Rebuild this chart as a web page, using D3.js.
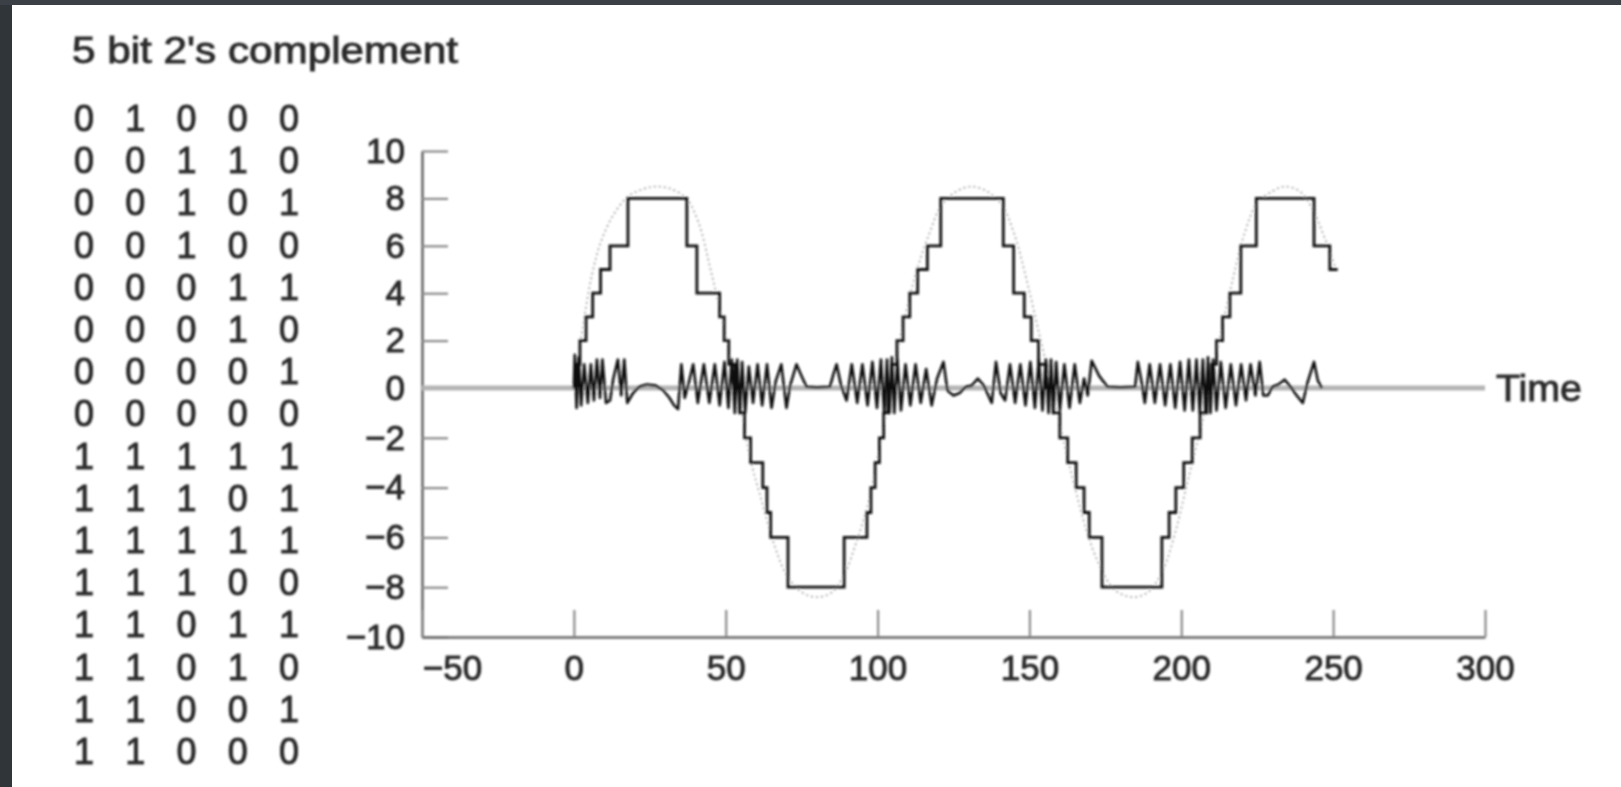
<!DOCTYPE html>
<html>
<head>
<meta charset="utf-8">
<script src="https://cdn.jsdelivr.net/npm/d3@7"></script>
<style>
  body { margin: 0; background: #30353a; overflow: hidden; }
  #chart { position: absolute; left: 0; top: 0; }
  text {
    font-family: "Liberation Sans", Arial, sans-serif;
    fill: #2a2a2a;
    stroke: #2a2a2a;
    stroke-width: 0.9px;
  }
</style>
</head>
<body>
<div id="chart"></div>
<script>
const titleText = "5 bit 2's complement";
const bitRows = [
  "01000", "00110", "00101", "00100", "00011", "00010", "00001", "00000",
  "11111", "11101", "11111", "11100", "11011", "11010", "11001", "11000",
];
const xTicks = [-50, 0, 50, 100, 150, 200, 250, 300];
const yTicks = [-10, -8, -6, -4, -2, 0, 2, 4, 6, 8, 10];

// quantized signal, [time, level] at the start of each step
const stepPts = [
  [0, 0], [0.6, 1], [2, 2], [4, 3], [6.2, 4], [8.8, 5], [11.9, 6], [17.8, 8],
  [37.2, 6], [40.5, 4], [48, 3], [49.5, 2], [51, 1], [53, 0], [54.7, -1],
  [56.2, -2], [58.2, -3], [62.2, -4], [63.6, -5], [64.8, -6], [70.5, -8],
  [89, -6], [96.5, -5], [97.8, -4], [99.2, -3], [100.6, -2], [102, -1],
  [103.4, 0], [104.7, 1], [106.4, 2], [108.4, 3], [110.6, 4], [113.2, 5],
  [116.4, 6], [120.8, 8],
  [141.4, 6], [144.8, 4], [148.3, 3], [150.6, 2], [153, 1], [155.5, 0],
  [157.8, -1], [160, -2], [162.6, -3], [165.4, -4], [168, -5], [169.7, -6],
  [173.9, -8],
  [193.6, -6], [196, -5], [198.2, -4], [200.8, -3], [203.6, -2], [206.2, -1],
  [208.4, 0], [210, 1], [211.6, 2], [213.6, 3], [216, 4], [219.6, 6],
  [224.7, 8],
  [243.7, 6], [248.9, 5], [251.5, 5],
];

// faint dotted original signal
const analogPts = [
  [0, 0], [3, 2.6], [6, 4.8], [9, 6.2], [13, 7.3], [18, 8.1], [23, 8.4],
  [27, 8.5], [32, 8.4], [37, 8.0], [41, 7], [45, 5], [49, 2.8], [52, 1],
  [55, -0.8], [58, -2.8], [62, -4.6], [66, -6.3], [70, -7.5], [75, -8.2],
  [80, -8.4], [85, -8.2], [89, -7.5], [93, -6.2], [97, -4.6], [100, -2.8],
  [103, -0.9], [106, 1.2], [109, 3], [113, 5], [117, 6.5], [121, 7.7],
  [126, 8.3], [131, 8.5], [136, 8.3], [141, 7.7], [145, 6.5], [149, 4.6],
  [153, 2.4], [157, 0.2], [161, -2], [165, -4], [169, -5.8], [173, -7.1],
  [178, -8.1], [184, -8.4], [189, -8.2], [194, -7.3], [198, -5.8],
  [202, -3.8], [206, -1.8], [209.5, 0], [213, 2.3], [217, 4.6], [221, 6.6],
  [225, 7.8], [230, 8.3], [234, 8.5], [239, 8.3], [243, 7.6], [247, 6.4],
  [251, 5],
];

// quantization error around zero
const errorPts = [
  [0, 0], [0.3, 1.4], [0.9, -0.8], [1.6, 1.3], [2.4, -0.7], [3.4, 1.0],
  [4.6, -0.6], [5.6, 1.0], [6.6, -0.5], [7.6, 1.2], [8.6, -0.4], [9.4, 1.2],
  [10.6, -0.6], [11.9, -0.5], [13, 0.4], [14.5, 1.2], [15.6, -0.3],
  [16.6, 1.2], [17.6, -0.6],
  [19.5, -0.2], [21.5, 0.05], [24, 0.15], [27, 0.1], [29.5, -0.1],
  [31.5, -0.4], [33, -0.7], [34.3, -0.85],
  [35.4, 1.0], [36.5, -0.4], [37.8, 0.2], [39.3, 1.0], [40.8, -0.6],
  [42.8, 1.0], [44.6, -0.6], [46.4, 1.0], [48, -0.7], [49.6, 1.1],
  [50.9, -0.8], [52, 1.2], [53, -1.0], [53.8, 1.2], [54.6, -1.0],
  [55.4, 1.1], [56.4, -1.0], [57.6, 0.9], [59, -0.6], [60.5, 1.0],
  [62, -0.7], [63.6, 1.0], [65.1, -0.8], [66.5, 0.3], [68.3, 1.0],
  [70, -0.8], [71.2, 0.1], [73.3, 1.0], [75, 0.5], [76.6, 0.05],
  [80, 0.03], [84.3, 0.05],
  [85.5, 0.6], [86.5, 1.0], [88, 0.1], [89.8, -0.5], [91.5, 1.0],
  [93.3, -0.6], [95, 1.0], [96.7, -0.7], [98.3, 1.1], [99.8, -0.8],
  [101.1, 1.2], [102.2, -1.0], [103.1, 1.2], [103.9, -1.0], [104.7, 1.3],
  [105.5, -1.0], [106.5, 1.2], [107.7, -0.9], [109.2, 1.0], [110.8, -0.7],
  [112.5, 1.0], [114.2, -0.6], [116, 0.8], [117.8, -0.7], [119.6, 0.4],
  [121.7, 1.1], [123, -0.1],
  [125, -0.3], [127, -0.2], [129, 0.05], [131, 0.1], [133, 0.4], [135, 0.1],
  [137.6, -0.6],
  [139, 1.1], [140.5, -0.2], [142, -0.5], [143.6, 1.0], [145.3, -0.6],
  [147, 1.0], [148.7, -0.7], [150.3, 1.1], [151.8, -0.8], [153.1, 1.2],
  [154.3, -0.9], [155.4, 1.2], [156.3, -1.0], [157.1, 1.2], [157.9, -1.0],
  [158.8, 1.1], [160, -0.9], [161.5, 1.0], [163.2, -0.8], [164.9, 1.0],
  [166.6, -0.6], [168, 0.4], [169.2, -0.3], [170.5, 1.15], [173, 0.5],
  [175.7, 0.05], [180, 0.03], [184.8, 0.05],
  [185.7, 1.1], [187, 0.2], [188, -0.6], [189.6, 1.0], [191.3, -0.6],
  [193, 1.0], [194.7, -0.7], [196.4, 1.0], [198, -0.8], [199.6, 1.1],
  [201.1, -0.9], [202.5, 1.2], [203.8, -0.9], [205, 1.2], [206.1, -1.0],
  [207.1, 1.2], [208, -1.0], [208.8, 1.3], [209.6, -1.0], [210.5, 1.2],
  [211.6, -0.9], [213, 1.1], [214.6, -0.8], [216.3, 1.0], [218, -0.7],
  [219.7, 1.0], [221.3, -0.5], [222.8, 1.0], [224.4, -0.3], [225.8, 1.1],
  [227, -0.3],
  [228.5, -0.3], [230, 0.05], [232, 0.15], [234, 0.35], [236, 0.05],
  [238, -0.3], [240, -0.6], [241.5, 0.2], [243.7, 1.1], [245, 0.3],
  [246.3, 0],
];

class QuantPlot {
  constructor() {
    this.config = {
      parentElement: "#chart",
      width: 1621,
      height: 787,
    };
    this.initVis();
  }

  initVis() {
    const vis = this;

    vis.svg = d3
      .select(vis.config.parentElement)
      .append("svg")
      .attr("width", vis.config.width)
      .attr("height", vis.config.height);

    vis.svg
      .append("defs")
      .append("filter")
      .attr("id", "scan")
      .append("feGaussianBlur")
      .attr("stdDeviation", 0.9);

    vis.svg
      .append("rect")
      .attr("width", vis.config.width)
      .attr("height", 5)
      .attr("fill", "#3a4046");

    vis.svg
      .append("rect")
      .attr("x", 12)
      .attr("y", 5)
      .attr("width", vis.config.width - 12)
      .attr("height", vis.config.height - 5)
      .attr("fill", "#fff");

    vis.g = vis.svg.append("g").attr("filter", "url(#scan)");

    vis.xScale = d3.scaleLinear().domain([-50, 300]).range([422, 1485]);
    vis.yScale = d3.scaleLinear().domain([-10, 0, 10]).range([637, 388, 151]);

    // bit table
    vis.g
      .append("text")
      .attr("x", 72)
      .attr("y", 63)
      .attr("font-size", 36)
      .attr("textLength", 386)
      .attr("lengthAdjust", "spacingAndGlyphs")
      .text(titleText);

    const rowScale = d3.scalePoint().domain(d3.range(bitRows.length)).range([118, 751]);
    const colScale = d3.scalePoint().domain(d3.range(5)).range([84, 289]);

    vis.g
      .selectAll(".bit-row")
      .data(bitRows)
      .join("g")
      .attr("class", "bit-row")
      .attr("transform", (d, i) => `translate(0,${rowScale(i)})`)
      .selectAll("text")
      .data((d) => d.split(""))
      .join("text")
      .attr("x", (d, j) => colScale(j))
      .attr("dy", "0.36em")
      .attr("text-anchor", "middle")
      .attr("font-size", 36)
      .text((d) => d);

    // axes
    vis.yAxis = d3
      .axisLeft(vis.yScale)
      .tickValues(yTicks)
      .tickSize(-26)
      .tickSizeOuter(0)
      .tickPadding(17);
    vis.xAxis = d3
      .axisBottom(vis.xScale)
      .tickValues(xTicks)
      .tickSize(-27)
      .tickSizeOuter(0)
      .tickPadding(18);

    const yAxisGroup = vis.g
      .append("g")
      .attr("transform", `translate(${vis.xScale(-50)},0)`)
      .call(vis.yAxis);
    const xAxisGroup = vis.g
      .append("g")
      .attr("transform", `translate(0,${vis.yScale(-10)})`)
      .call(vis.xAxis);

    [yAxisGroup, xAxisGroup].forEach((ax) => {
      ax.select(".domain").attr("stroke", "#666").attr("stroke-width", 2.6);
      ax.selectAll(".tick line").attr("stroke", "#8a8a8a").attr("stroke-width", 2.2);
      ax.selectAll(".tick text")
        .attr("font-size", 35)
        .attr("fill", "#2a2a2a")
        .attr("font-family", '"Liberation Sans", Arial, sans-serif');
    });
    xAxisGroup
      .selectAll(".tick text")
      .filter((d) => d === -50)
      .attr("dx", 30);

    vis.updateVis();
  }

  updateVis() {
    const vis = this;

    // zero / time line
    vis.g
      .append("line")
      .attr("x1", vis.xScale(-50))
      .attr("x2", vis.xScale(300))
      .attr("y1", vis.yScale(0))
      .attr("y2", vis.yScale(0))
      .attr("stroke", "#b4b4b4")
      .attr("stroke-width", 5);

    vis.g
      .append("text")
      .attr("x", vis.xScale(300) + 11)
      .attr("y", vis.yScale(0))
      .attr("dy", "0.36em")
      .attr("font-size", 36)
      .attr("textLength", 86)
      .attr("lengthAdjust", "spacingAndGlyphs")
      .text("Time");

    const line = d3
      .line()
      .x((d) => vis.xScale(d[0]))
      .y((d) => vis.yScale(d[1]));

    vis.g
      .append("path")
      .datum(analogPts)
      .attr("fill", "none")
      .attr("stroke", "#a8a8a8")
      .attr("stroke-width", 1.8)
      .attr("stroke-dasharray", "2,3")
      .attr("d", line.curve(d3.curveCatmullRom));

    vis.g
      .append("path")
      .datum(stepPts)
      .attr("fill", "none")
      .attr("stroke", "#111")
      .attr("stroke-width", 2.8)
      .attr("d", line.curve(d3.curveStepAfter));

    vis.g
      .append("path")
      .datum(errorPts)
      .attr("fill", "none")
      .attr("stroke", "#111")
      .attr("stroke-width", 2.6)
      .attr("stroke-linejoin", "round")
      .attr("d", line.curve(d3.curveLinear));
  }
}

new QuantPlot();
</script>
</body>
</html>
